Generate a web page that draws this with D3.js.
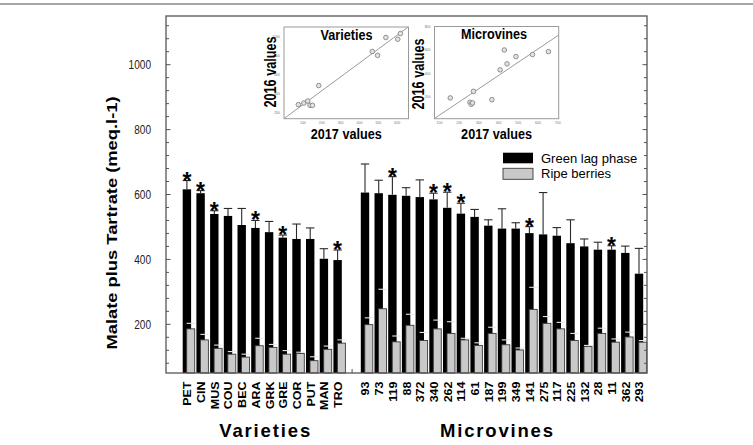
<!DOCTYPE html>
<html><head><meta charset="utf-8">
<script src="https://cdn.jsdelivr.net/npm/d3@7"></script>
<style>body{margin:0;background:#fff}svg{display:block}text{font-family:"Liberation Sans",Arial,sans-serif}</style>
</head><body>
<svg id="c" width="753" height="445"></svg>
<script>
// ---- data ----
const varieties = ["PET","CIN","MUS","COU","BEC","ARA","GRK","GRE","COR","PUT","MAN","TRO"];
const varGreen  = [616,604,540,534,506,497,484,467,463,463,402,398];
const varGreenSd= [27,8,10,23,51,23,33,8,46,34,31,31];
const varRipe   = [186,152,126,108,99,134,129,108,110,88,123,142];
const varRipeSd = [17,17,10,8,9,23,9,11,4,12,10,10];
const varStar   = [1,1,1,0,0,1,0,1,0,0,0,1];

const microvines = ["93","73","119","88","372","340","262","114","61","187","199","349","141","275","117","225","132","28","11","362","293"];
const microGreen  = [606,604,599,596,592,585,559,541,531,504,495,495,481,477,473,450,440,430,430,420,356];
const microGreenSd= [88,40,56,25,53,19,48,32,23,18,61,18,20,129,25,72,23,23,12,21,78];
const microRipe   = [199,248,146,197,150,186,172,152,135,172,137,121,246,203,186,150,132,172,145,161,145];
const microRipeSd = [21,60,18,34,25,27,36,5,8,19,15,6,68,21,20,22,3,16,10,15,5];
const microStar   = [0,0,1,0,0,1,1,1,0,0,0,0,1,0,0,0,0,0,1,0,0];

const yMajorTicks = [200,400,600,800,1000];

// inset scatter data (2017 vs 2016)
const varScX = [76,105,126,138,151,184,468,496,540,603,617];
const varScY = [287,304,325,280,280,487,844,803,990,972,1031];
const varFitX = [0,660];
const varFitY = [141,1102];
const varXTicks = [100,200,300,400,500,600];
const varYTicks = [200,400,600,800,1000];

const micScX = [155,255,261,268,273,366,408,429,443,488,572,653];
const micScY = [192,155,138,149,248,177,431,600,482,544,561,586];
const micFitX = [75,705];
const micFitY = [17,727];
const micXTicks = [100,200,300,400,500,600,700];
const micYTicks = [200,400,600,800];

// ---- build ----
const svg = d3.select("#c");
const FONT = '"Liberation Sans",Arial,sans-serif';

svg.append("line").attr("x1",0).attr("x2",753).attr("y1",4).attr("y2",4)
  .attr("stroke","#8a8a8a").attr("stroke-width",1.5);

const rows = [];
varieties.forEach((c,i)=>rows.push({c, g:varGreen[i], gs:varGreenSd[i], r:varRipe[i], rs:varRipeSd[i], star:varStar[i]}));
rows.push({c:"__gap", gap:true});
microvines.forEach((c,i)=>rows.push({c, g:microGreen[i], gs:microGreenSd[i], r:microRipe[i], rs:microRipeSd[i], star:microStar[i]}));
const data = rows.filter(d=>!d.gap);

const L=166, R=647, T=16, B=373;
const x = d3.scaleBand().domain(rows.map(d=>d.c)).range([177.5, 177.5+13.7*rows.length]).padding(0);
const y = d3.scaleLinear().domain([50,1150]).range([B,T]);

const bw = 8.4;
const gx = c => x(c)+5.2;        // black bar left
const rx = c => x(c)+9.2;        // ripe bar left

const plot = svg.append("g");
// black bars
plot.selectAll(".gb").data(data).join("rect")
  .attr("x",d=>gx(d.c)).attr("width",bw)
  .attr("y",d=>y(d.g)).attr("height",d=>B-y(d.g)).attr("fill","#000");
// black error bars
const ge = plot.selectAll(".ge").data(data).join("g").attr("stroke","#2a2a2a").attr("stroke-width",1.1);
ge.append("line").attr("x1",d=>gx(d.c)+bw/2).attr("x2",d=>gx(d.c)+bw/2).attr("y1",d=>y(d.g)).attr("y2",d=>y(d.g+d.gs));
ge.append("line").attr("x1",d=>gx(d.c)).attr("x2",d=>gx(d.c)+bw).attr("y1",d=>y(d.g+d.gs)).attr("y2",d=>y(d.g+d.gs));
// ripe bars
plot.selectAll(".rb").data(data).join("rect")
  .attr("x",d=>rx(d.c)).attr("width",bw-0.4)
  .attr("y",d=>y(d.r)).attr("height",d=>B-y(d.r))
  .attr("fill","#c9c9c9").attr("stroke","#3a3a3a").attr("stroke-width",0.9);
// ripe error caps (light, visible over the black bars)
const re = plot.selectAll(".re").data(data).join("g").attr("stroke","#e6e6e6").attr("stroke-width",1.1);
re.append("line").attr("x1",d=>rx(d.c)).attr("x2",d=>rx(d.c)+bw).attr("y1",d=>y(d.r+d.rs)).attr("y2",d=>y(d.r+d.rs));
// stars
plot.selectAll(".st").data(data.filter(d=>d.star)).join("text")
  .attr("x",d=>gx(d.c)+bw/2).attr("y",d=>y(d.g+d.gs)+8)
  .attr("text-anchor","middle").attr("font-size",23).attr("font-weight","bold")
  .attr("font-family",FONT).text("*");

// frame + ticks
svg.append("rect").attr("x",L).attr("y",T).attr("width",R-L).attr("height",B-T)
  .attr("fill","none").attr("stroke","#555").attr("stroke-width",1.3);
const minor = d3.range(80,1150,40).filter(v=>!yMajorTicks.includes(v));
const tk = svg.append("g").attr("stroke","#555").attr("stroke-width",1);
yMajorTicks.forEach(v=>{
  tk.append("line").attr("x1",L).attr("x2",L+4.5).attr("y1",y(v)).attr("y2",y(v));
  tk.append("line").attr("x1",R).attr("x2",R-4.5).attr("y1",y(v)).attr("y2",y(v));
});
minor.forEach(v=>{
  tk.append("line").attr("x1",L).attr("x2",L+3).attr("y1",y(v)).attr("y2",y(v));
  tk.append("line").attr("x1",R).attr("x2",R-3).attr("y1",y(v)).attr("y2",y(v));
});
tk.append("line").attr("x1",x("__gap")+10.2).attr("x2",x("__gap")+10.2).attr("y1",B).attr("y2",B-4);

svg.selectAll(".yl").data(yMajorTicks).join("text")
  .attr("x",151).attr("y",v=>y(v)+4.6).attr("text-anchor","end")
  .attr("font-size",13).attr("font-family",FONT).attr("fill","#222")
  .attr("textLength",v=>String(v).length*5.6).attr("lengthAdjust","spacingAndGlyphs")
  .text(v=>v);

svg.append("text").attr("transform","translate(112,223) scale(0.88,1) rotate(-90)")
  .attr("text-anchor","middle").attr("dy","0.35em").attr("font-size",17.5).attr("font-weight","bold")
  .attr("font-family",FONT).attr("textLength",253).attr("lengthAdjust","spacingAndGlyphs")
  .text("Malate plus Tartrate (meq.l-1)");

// x labels
svg.selectAll(".xl").data(data).join("text")
  .attr("transform",d=>`translate(${x(d.c)+10.2},381.5) scale(0.82,1) rotate(-90)`)
  .attr("text-anchor","end").attr("dy","0.36em").attr("font-size",12.5).attr("font-weight","bold")
  .attr("font-family",FONT).text(d=>d.c);

svg.append("text").attr("x",264.7).attr("y",436.5).attr("text-anchor","middle")
  .attr("font-size",18.5).attr("font-weight","bold").attr("font-family",FONT)
  .attr("textLength",91).attr("lengthAdjust","spacing").text("Varieties");
svg.append("text").attr("x",496.5).attr("y",436.5).attr("text-anchor","middle")
  .attr("font-size",18.5).attr("font-weight","bold").attr("font-family",FONT)
  .attr("textLength",113).attr("lengthAdjust","spacing").text("Microvines");

// legend
const lg = svg.append("g");
lg.append("rect").attr("x",503).attr("y",152.7).attr("width",30).attr("height",10.6).attr("fill","#000");
lg.append("rect").attr("x",503).attr("y",168.3).attr("width",30).attr("height",11).attr("fill","#c9c9c9").attr("stroke","#3a3a3a").attr("stroke-width",0.9);
lg.append("text").attr("x",541).attr("y",162.5).attr("font-size",13).attr("font-family",FONT).text("Green lag phase");
lg.append("text").attr("x",541).attr("y",177.5).attr("font-size",13).attr("font-family",FONT).text("Ripe berries");

// insets
function inset(o){
  const g = svg.append("g");
  const sx = d3.scaleLinear().domain(o.xd).range([o.x0,o.x1]);
  const sy = d3.scaleLinear().domain(o.yd).range([o.y1,o.y0]);
  g.append("rect").attr("x",o.x0).attr("y",o.y0).attr("width",o.x1-o.x0).attr("height",o.y1-o.y0)
    .attr("fill","#fff").attr("stroke","#9a9a9a").attr("stroke-width",1);
  const clipId = "clip"+o.id;
  g.append("clipPath").attr("id",clipId).append("rect").attr("x",o.x0).attr("y",o.y0).attr("width",o.x1-o.x0).attr("height",o.y1-o.y0);
  g.append("line").attr("clip-path",`url(#${clipId})`)
    .attr("x1",sx(o.fx[0])).attr("y1",sy(o.fy[0])).attr("x2",sx(o.fx[1])).attr("y2",sy(o.fy[1]))
    .attr("stroke","#9a9a9a").attr("stroke-width",1);
  g.selectAll("circle").data(o.px.map((v,i)=>[v,o.py[i]])).join("circle")
    .attr("cx",d=>sx(d[0])).attr("cy",d=>sy(d[1])).attr("r",2.3)
    .attr("fill","#e2e2e2").attr("stroke","#7a7a7a").attr("stroke-width",0.8);
  g.selectAll(".xt").data(o.xt).join("text").attr("x",d=>sx(d)).attr("y",o.y1+5)
    .attr("text-anchor","middle").attr("font-size",3.5).attr("fill","#777").attr("font-family",FONT).text(d=>d);
  g.selectAll(".yt").data(o.yt).join("text").attr("x",o.x0-4).attr("y",d=>sy(d)+1.2)
    .attr("text-anchor","end").attr("font-size",3.5).attr("fill","#777").attr("font-family",FONT).text(d=>d);
  g.append("text").attr("x",o.tx).attr("y",o.ty).attr("text-anchor","middle")
    .attr("font-size",14.5).attr("font-weight","bold").attr("font-family",FONT)
    .attr("textLength",o.tl).attr("lengthAdjust","spacingAndGlyphs").text(o.title);
  g.append("text").attr("x",(o.x0+o.x1)/2).attr("y",138.5).attr("text-anchor","middle")
    .attr("font-size",14.5).attr("font-weight","bold").attr("font-family",FONT)
    .attr("textLength",71).attr("lengthAdjust","spacingAndGlyphs").text("2017 values");
  g.append("text").attr("transform",`translate(${o.yx},${o.yy}) rotate(-90)`).attr("text-anchor","middle")
    .attr("dy","0.36em").attr("font-size",16).attr("font-weight","bold").attr("font-family",FONT)
    .attr("textLength",71).attr("lengthAdjust","spacingAndGlyphs").text("2016 values");
}
inset({id:1,x0:284,x1:408.5,y0:27,y1:118.7,xd:[0,660],yd:[140,1100],px:varScX,py:varScY,fx:varFitX,fy:varFitY,
  xt:varXTicks,yt:varYTicks,title:"Varieties",tx:346.5,ty:40,tl:52,yx:270,yy:72});
inset({id:2,x0:434.5,x1:558.7,y0:26.5,y1:118.7,xd:[75,705],yd:[15,800],px:micScX,py:micScY,fx:micFitX,fy:micFitY,
  xt:micXTicks,yt:micYTicks,title:"Microvines",tx:494,ty:39,tl:66,yx:418.5,yy:74});
</script>
</body></html>
